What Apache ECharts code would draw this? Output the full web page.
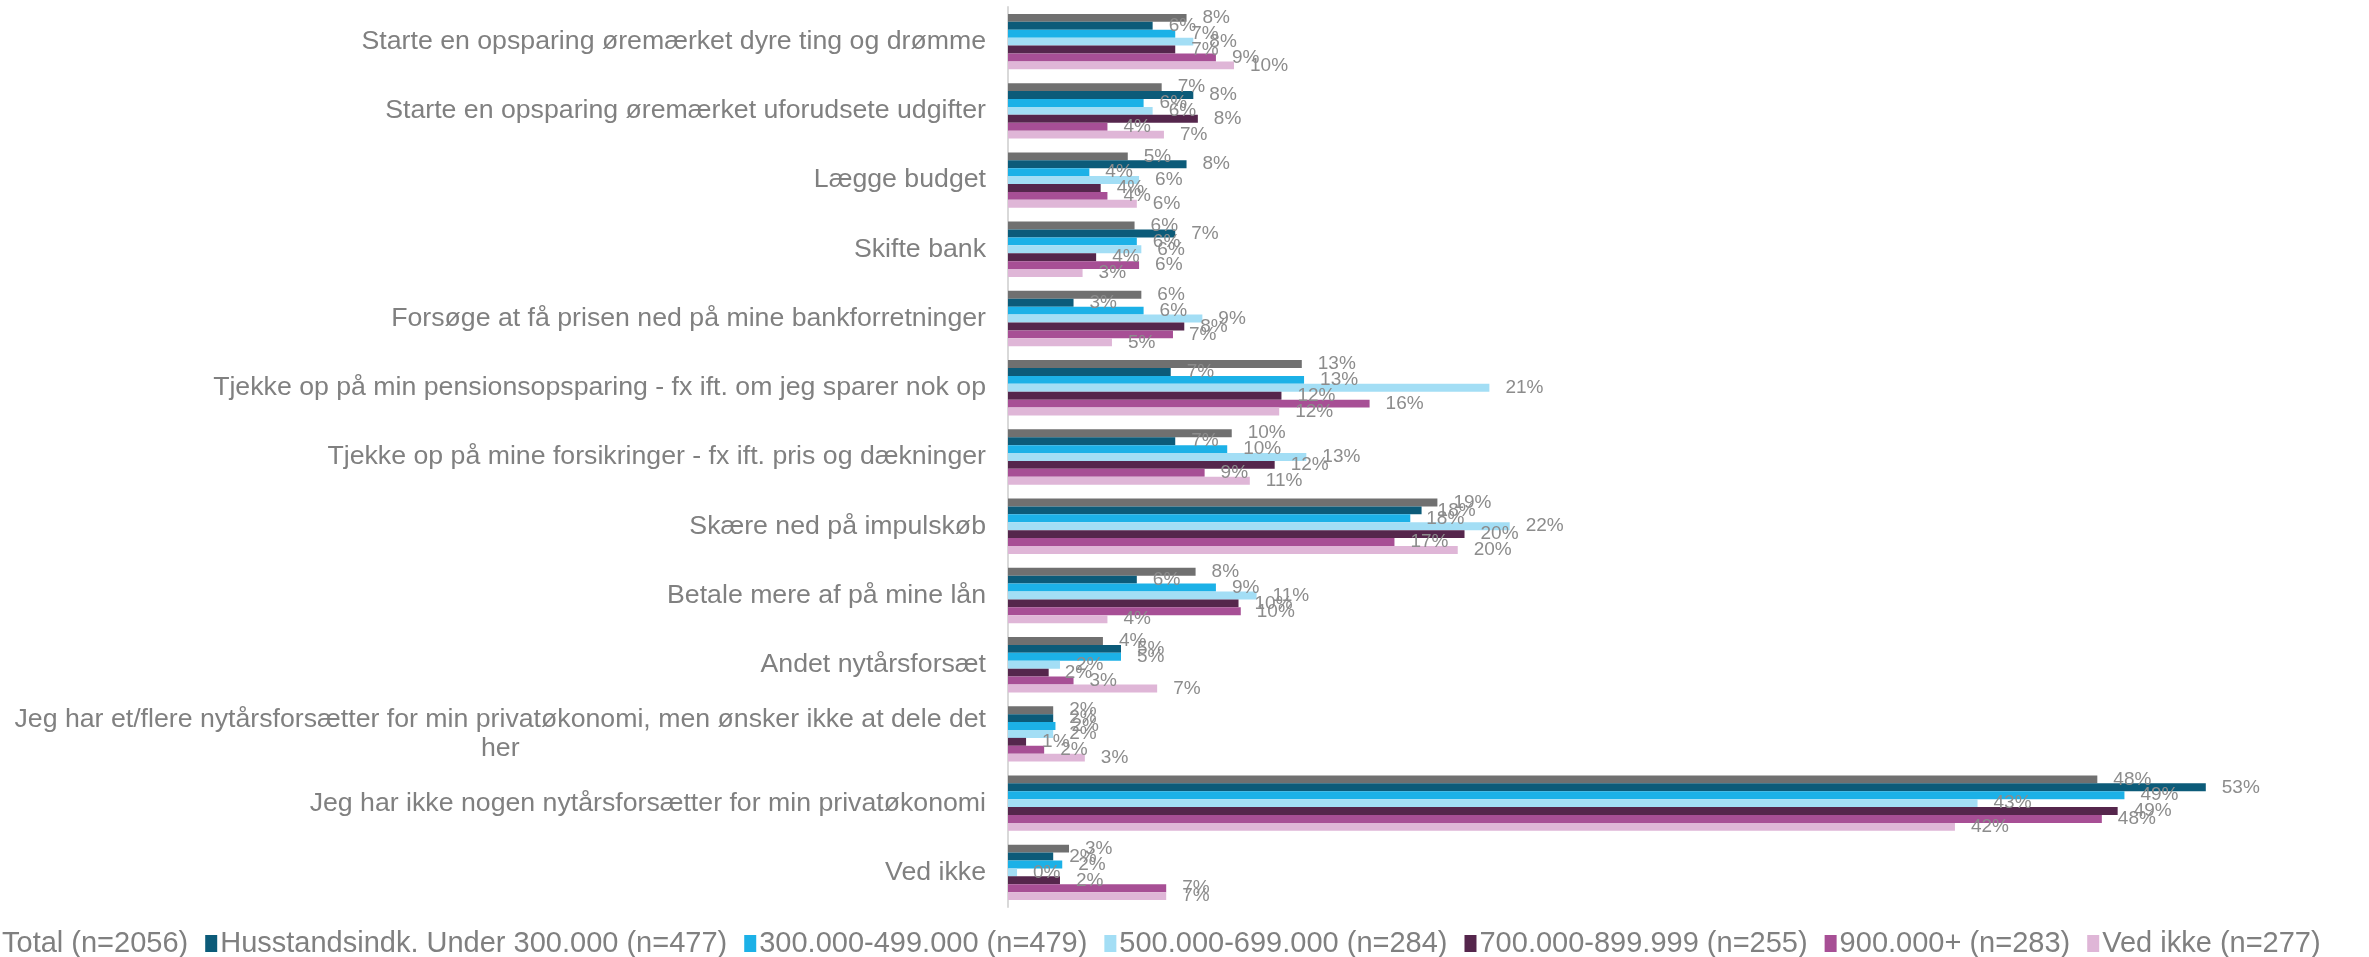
<!DOCTYPE html>
<html>
<head>
<meta charset="utf-8">
<script src="https://cdn.jsdelivr.net/npm/echarts@6/dist/echarts.min.js"></script>
<style>
html,body{margin:0;padding:0;background:#fff;}
#c{width:2369px;height:957px;}
</style>
</head>
<body>
<div id="c"></div>
<script>
const categories = [
  'Starte en opsparing øremærket dyre ting og drømme',
  'Starte en opsparing øremærket uforudsete udgifter',
  'Lægge budget',
  'Skifte bank',
  'Forsøge at få prisen ned på mine bankforretninger',
  'Tjekke op på min pensionsopsparing - fx ift. om jeg sparer nok op',
  'Tjekke op på mine forsikringer - fx ift. pris og dækninger',
  'Skære ned på impulskøb',
  'Betale mere af på mine lån',
  'Andet nytårsforsæt',
  'Jeg har et/flere nytårsforsætter for min privatøkonomi, men ønsker ikke at dele det her',
  'Jeg har ikke nogen nytårsforsætter for min privatøkonomi',
  'Ved ikke'
];
const seriesNames = [
  'Total (n=2056)',
  'Husstandsindk. Under 300.000 (n=477)',
  '300.000-499.000 (n=479)',
  '500.000-699.000 (n=284)',
  '700.000-899.999 (n=255)',
  '900.000+ (n=283)',
  'Ved ikke (n=277)'
];
const total    = [7.9, 6.8, 5.3, 5.6, 5.9, 13.0, 9.9, 19.0, 8.3, 4.2, 2.0, 48.2, 2.7];
const under300 = [6.4, 8.2, 7.9, 7.4, 2.9, 7.2, 7.4, 18.3, 5.7, 5.0, 2.0, 53.0, 2.0];
const r300     = [7.4, 6.0, 3.6, 5.7, 6.0, 13.1, 9.7, 17.8, 9.2, 5.0, 2.1, 49.4, 2.4];
const r500     = [8.2, 6.4, 5.8, 5.9, 8.6, 21.3, 13.2, 22.2, 11.0, 2.3, 2.0, 42.9, 0.4];
const r700     = [7.4, 8.4, 4.1, 3.9, 7.8, 12.1, 11.8, 20.2, 10.2, 1.8, 0.8, 49.1, 2.3];
const r900     = [9.2, 4.4, 4.4, 5.8, 7.3, 16.0, 8.7, 17.1, 10.3, 2.9, 1.6, 48.4, 7.0];
const vedIkke  = [10.0, 6.9, 5.7, 3.3, 4.6, 12.0, 10.7, 19.9, 4.4, 6.6, 3.4, 41.9, 7.0];

const seriesData = [total, under300, r300, r500, r700, r900, vedIkke];
const colors = ['#707070', '#0c5b79', '#1cb1e7', '#a3def5', '#55264c', '#a74f95', '#dfb6d7'];

const chart = echarts.init(document.getElementById('c'), null, {renderer: 'canvas'});
const FONT = '"Liberation Sans", Arial, sans-serif';

const option = {
  backgroundColor: '#ffffff',
  animation: false,
  textStyle: {fontFamily: FONT},
  grid: {left: 1008, top: 7, width: 1356, height: 900, containLabel: false},
  legend: {
    left: -18,
    top: 924,
    itemWidth: 12,
    itemHeight: 17,
    itemGap: 17,
    icon: 'rect',
    textStyle: {fontFamily: FONT, fontSize: 29, color: '#808080', padding: [0, 0, 0, -2]},
    data: seriesNames
  },
  xAxis: {
    type: 'value', min: 0, max: 60,
    show: false,
    splitLine: {show: false}
  },
  yAxis: {
    type: 'category',
    inverse: true,
    data: categories,
    axisLine: {show: true, lineStyle: {color: '#d9d9d9', width: 2}},
    axisTick: {show: false},
    axisLabel: {
      fontFamily: FONT,
      fontSize: 26.7,
      color: '#808080',
      margin: 22,
      formatter: function (v) {
        if (v.endsWith(' det her')) {
          return '{c|' + v.slice(0, -4) + '}\n{c|her}';
        }
        return v;
      },
      rich: {
        c: {fontFamily: FONT, fontSize: 26.7, color: '#808080', align: 'center', lineHeight: 29}
      }
    }
  },
  series: seriesNames.map((name, i) => ({
    name: name,
    type: 'bar',
    data: seriesData[i],
    barGap: '0%',
    barCategoryGap: '20%',
    itemStyle: {color: colors[i]},
    label: {
      show: true,
      position: 'right',
      distance: 16,
      fontFamily: FONT,
      fontSize: 19,
      color: '#8c8c8c',
      formatter: p => Math.round(p.value) + '%'
    }
  }))
};
chart.setOption(option);
</script>
</body>
</html>
